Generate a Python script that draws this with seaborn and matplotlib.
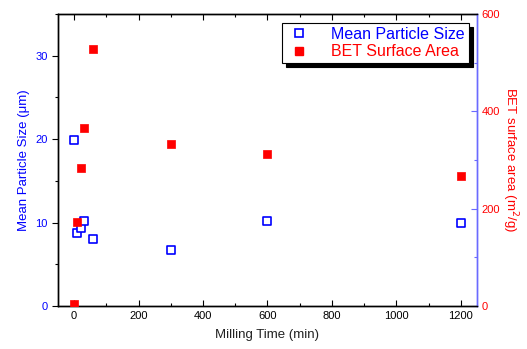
import matplotlib
matplotlib.use("Agg")
import matplotlib.pyplot as plt
import seaborn as sns
import pandas as pd
from matplotlib.ticker import MultipleLocator
from matplotlib.lines import Line2D

# Data
milling_time = [0, 10, 20, 30, 60, 300, 600, 1200]
particle_size = [19.9, 8.7, 9.3, 10.2, 8.0, 6.7, 10.2, 9.9]
bet_area = [5, 172, 283, 365, 528, 332, 313, 268]

sns.set_theme(style="white")
plt.rcParams['font.family'] = ['Liberation Sans', 'DejaVu Sans']

df = pd.DataFrame({"t": milling_time, "size": particle_size, "bet": bet_area})

fig = plt.figure(figsize=(5.27, 3.49), dpi=100)
ax = fig.add_axes([0.110, 0.123, 0.795, 0.837])
ax2 = ax.twinx()

blue = "#0000ff"
red = "#ff0000"

sns.scatterplot(data=df, x="t", y="size", ax=ax, marker="s", s=34,
                facecolor="white", edgecolor=blue, linewidth=1.2, zorder=3)
sns.scatterplot(data=df, x="t", y="bet", ax=ax2, marker="s", s=40,
                color=red, edgecolor=red, linewidth=0.5, zorder=3)

ax.set_xlim(-50, 1250)
ax.set_ylim(0, 35)
ax2.set_ylim(0, 600)

ax.xaxis.set_major_locator(MultipleLocator(200))
ax.xaxis.set_minor_locator(MultipleLocator(100))
ax.yaxis.set_major_locator(MultipleLocator(10))
ax.yaxis.set_minor_locator(MultipleLocator(5))
ax2.yaxis.set_major_locator(MultipleLocator(200))
ax2.yaxis.set_minor_locator(MultipleLocator(100))

ax.set_xlabel("Milling Time (min)", fontsize=9.5, color="#222222", labelpad=6)
ax.set_ylabel("Mean Particle Size (\u03bcm)", fontsize=9.5, color=blue, labelpad=4)
ax2.set_ylabel("BET surface area (m$^2$/g)", fontsize=9.5, color=red,
               rotation=270, labelpad=14)

for a in (ax, ax2):
    for s in a.spines.values():
        s.set_color("black")
        s.set_linewidth(1.0)
ax2.spines["right"].set_color("#6a6aff")
ax.spines["right"].set_color("#6a6aff")

ax.tick_params(axis="x", which="both", direction="in", top=True, bottom=True,
               colors="black", labelsize=8, length=4, width=0.8)
ax.tick_params(axis="x", which="minor", length=2.5)
ax.tick_params(axis="y", which="both", direction="out", left=True, right=False,
               color="black", labelcolor=blue, labelsize=8, length=4, width=0.8)
ax.tick_params(axis="y", which="minor", length=2.5)
ax2.tick_params(axis="y", which="both", direction="in", right=True,
                color="#6a6aff", labelcolor=red, labelsize=8, length=4, width=0.8)
ax2.tick_params(axis="y", which="minor", length=2.5)

ax.set_xticks([0, 200, 400, 600, 800, 1000, 1200])
ax.grid(False)
ax2.grid(False)

handles = [
    Line2D([], [], linestyle="none", marker="s", markersize=5.5,
           markerfacecolor="white", markeredgecolor=blue, markeredgewidth=1.2),
    Line2D([], [], linestyle="none", marker="s", markersize=6,
           markerfacecolor=red, markeredgecolor=red),
]
leg = ax2.legend(handles, ["Mean Particle Size", "BET Surface Area"],
                 loc="upper right", bbox_to_anchor=(0.98, 0.97),
                 fontsize=11.5, frameon=True, fancybox=False,
                 shadow={"color": "black", "alpha": 1.0, "ox": 3, "oy": -3},
                 borderpad=0.25, labelspacing=0.15, handletextpad=1.2,
                 handlelength=1.6, borderaxespad=0)
leg.get_frame().set_edgecolor("black")
leg.get_frame().set_linewidth(0.8)
leg.get_texts()[0].set_color(blue)
leg.get_texts()[1].set_color(red)

fig.savefig("out.png", dpi=100)
